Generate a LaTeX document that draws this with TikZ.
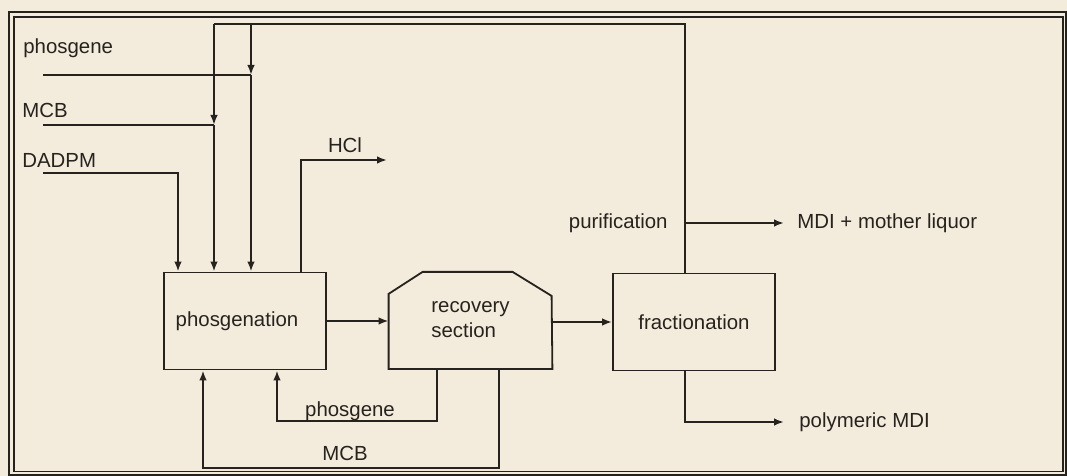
\documentclass[tikz,border=0pt]{standalone}
\usepackage{fontspec}
\setmainfont{Liberation Sans}
\usepackage{xcolor}
\usetikzlibrary{arrows.meta,positioning}
\definecolor{paper}{RGB}{243,236,220}
\definecolor{ink}{RGB}{38,34,30}

\begin{document}
\begin{tikzpicture}[
  x=0.5pt, y=-0.5pt,
  color=ink,
  font=\fontsize{10.2}{12.5}\selectfont,
  unit/.style={
    draw,
    line width=0.9pt,
    minimum width=81pt,
    minimum height=48.5pt,
    align=center,
  },
  flow/.style={-{Latex[length=5pt,width=3.8pt]}, line width=1.1pt},
  pipe/.style={line width=1.1pt},
  lbl/.style={inner sep=0pt},
  frame/.style={line width=0.9pt},
]

\path[use as bounding box, fill=paper] (0,0) rectangle (1067,476);
\draw[frame] (9,12) rectangle (1066,475);
\draw[frame] (14,17) rectangle (1063,471.5);

% process units
\node[unit] (phos) at (245,321) {phosgenation\hspace*{8pt}};
\node[minimum width=81.5pt, minimum height=48.5pt, align=left] (rec) at (470.5,320) {recovery\\section\hspace*{6pt}};
\draw[line width=0.9pt] (rec.south west) -- ++(0,-75) -- ++(34,-22) -- ++(90,0) -- ++(39,24) -- (rec.south east) -- cycle;
\node[unit] (frac) at (694,322) {fractionation};

% feeds
\node[lbl, anchor=west] (phosIn) at (23,48) {phosgene};
\node[lbl, anchor=west] (mcbIn) at (22,110) {MCB};
\node[lbl, anchor=west] (dadIn) at (22,160) {DADPM};

\coordinate (feedP) at (43,75);
\coordinate (joinP) at (251,75);
\coordinate (feedM) at (43,125);
\coordinate (joinM) at (214,125);
\coordinate (feedD) at (43,173);
\coordinate (bendD) at (178,173);
\coordinate (topL) at (214,24);
\coordinate (topR) at (251,24);
\coordinate (pur) at (685,223);

\draw[pipe] (feedP) -- (joinP);
\draw[pipe] (feedM) -- (joinM);
\draw[flow] (feedD) -- (bendD) -- (bendD |- phos.north);

% recycle from purification
\draw[pipe] (frac.north -| pur) -- (pur) |- (topL);
\draw[flow] (topR) -- (joinP);
\draw[flow] (topL) -- (joinM);
\draw[flow] (joinP) -- (joinP |- phos.north);
\draw[flow] (joinM) -- (joinM |- phos.north);

% HCl off-gas
\coordinate (hclUp) at (301,160);
\coordinate (hclEnd) at (387,160);
\draw[flow] (hclUp |- phos.north) -- (hclUp) -- (hclEnd);
\node[lbl] (hcl) at (345,145) {HCl};

% main line
\draw[flow] (phos.east) -- (phos.east -| rec.west);
\draw[flow] (rec.east |- frac.west) -- (frac.west);

% products
\coordinate (mdiEnd) at (784,223);
\draw[flow] (pur) -- (mdiEnd);
\node[lbl, left=8.5pt of pur] (purif) {purification};
\node[lbl, right=6.5pt of mdiEnd] (mdi) {MDI + mother liquor};
\coordinate (polyEnd) at (784,422);
\draw[flow] (frac.south -| pur) |- (polyEnd);
\node[lbl, right=7.5pt of polyEnd] (poly) {polymeric MDI};

% returns from recovery
\coordinate (phRetR) at (437,421);
\coordinate (phRetL) at (277,421);
\draw[flow] (rec.south -| phRetR) -- (phRetR) -- (phRetL) -- (phRetL |- phos.south);
\node[lbl, anchor=south] (phRetLbl) at (350,421) {phosgene};
\coordinate (mcbRetR) at (499,468);
\coordinate (mcbRetL) at (203,468);
\draw[flow] (rec.south -| mcbRetR) -- (mcbRetR) -- (mcbRetL) -- (mcbRetL |- phos.south);
\node[lbl] (mcbRetLbl) at (345,453) {MCB};

\end{tikzpicture}
\end{document}
